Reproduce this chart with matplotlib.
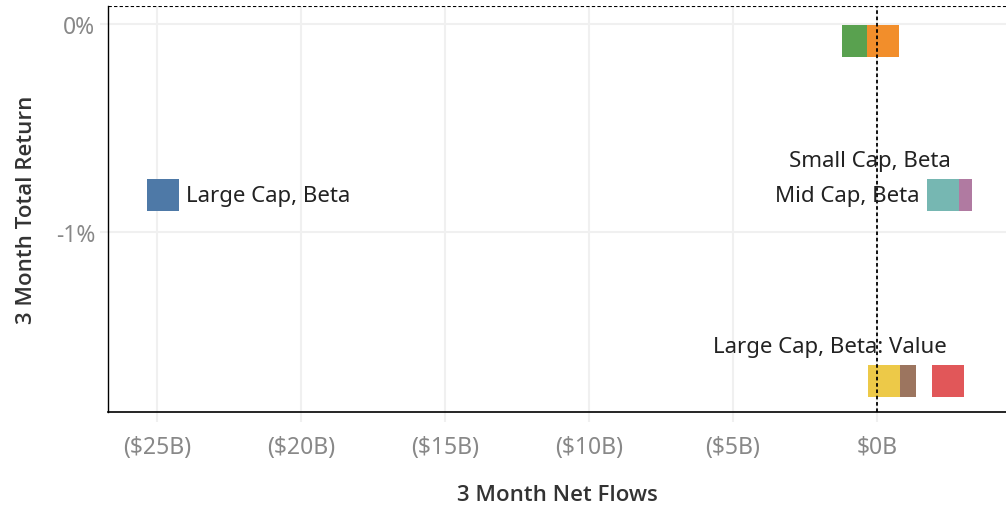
import matplotlib
matplotlib.use("Agg")
import matplotlib.pyplot as plt
from matplotlib.ticker import FuncFormatter

plt.rcParams["font.family"] = ["Noto Sans", "DejaVu Sans"]

# 3 month net flows ($B) and 3 month total return (%)
categories = [
    "Large Cap, Beta", "Large Cap, Growth", "Large Cap, Value",
    "Small Cap, Beta", "Mid Cap, Beta", "Small Cap, Value",
    "Mid Cap, Value", "Large Cap, Beta: Value",
]
net_flows = [-24.8, -0.66, 0.21, 2.74, 2.29, 0.80, 2.47, 0.24]
total_return = [-0.822, -0.082, -0.082, -0.822, -0.822, -1.716, -1.716, -1.716]
colors = ["#4e79a7", "#59a14f", "#f28e2b", "#b07aa1", "#76b7b2",
          "#9c755f", "#e15759", "#edc948"]
# which points carry a text label, and where (offset in points, alignment)
labels = {
    "Large Cap, Beta": ((17, 0), "left"),
    "Mid Cap, Beta": ((-17, 0), "right"),
    "Small Cap, Beta": ((-62, 25), "center"),
    "Large Cap, Beta: Value": ((-39, 25), "center"),
}

x_ticks = [-25, -20, -15, -10, -5, 0]
y_ticks = [0, -1]


def money(v, pos=None):
    if v < 0:
        return f"(${abs(v):.0f}B)"
    return f"${v:.0f}B"


def pct(v, pos=None):
    return f"{v:.0f}%"


fig = plt.figure(figsize=(10.06, 5.06), dpi=100)
ax = fig.add_axes([108 / 1006, 93 / 506, 898 / 1006, 406 / 506])

for i, (name, x, y, c) in enumerate(zip(categories, net_flows, total_return, colors)):
    ax.scatter(x, y, s=530, marker="s", color=c, linewidths=0, zorder=3 + i)
    if name in labels:
        off, ha = labels[name]
        ax.annotate(name, (x, y), xytext=off, textcoords="offset points",
                    ha=ha, va="center", fontsize=16, color="#222222", zorder=20)

ax.set_xlim(-26.7, 4.48)
ax.set_ylim(-1.865, 0.087)

ax.axvline(0, color="black", linestyle=(0, (2, 1.5)), linewidth=1.3, zorder=15)
ax.axhline(0.087, color="black", linestyle=(0, (3, 2)), linewidth=0.8, zorder=15)

ax.set_xticks(x_ticks)
ax.set_yticks(y_ticks)
ax.xaxis.set_major_formatter(FuncFormatter(money))
ax.yaxis.set_major_formatter(FuncFormatter(pct))
ax.tick_params(axis="both", colors="#f0f0f0", width=1.5,
               labelcolor="#888888", labelsize=16.5)
ax.tick_params(axis="x", length=7.5, pad=9)
ax.tick_params(axis="y", length=6, pad=3)
ax.grid(True, color="#f0f0f0", linewidth=1.5, zorder=0)
ax.set_axisbelow(True)

for side in ["top", "right"]:
    ax.spines[side].set_visible(False)
ax.spines["left"].set_color("black")
ax.spines["bottom"].set_color("black")
ax.spines["left"].set_linewidth(1)
ax.spines["bottom"].set_linewidth(1.2)

title_font = dict(family=["Open Sans", "Noto Sans"], fontsize=16,
                  color="#333333", fontweight="semibold")
ax.set_xlabel("3 Month Net Flows", labelpad=18, **title_font)
ax.set_ylabel("3 Month Total Return", labelpad=14, **title_font)

fig.savefig("out.png", dpi=100)
